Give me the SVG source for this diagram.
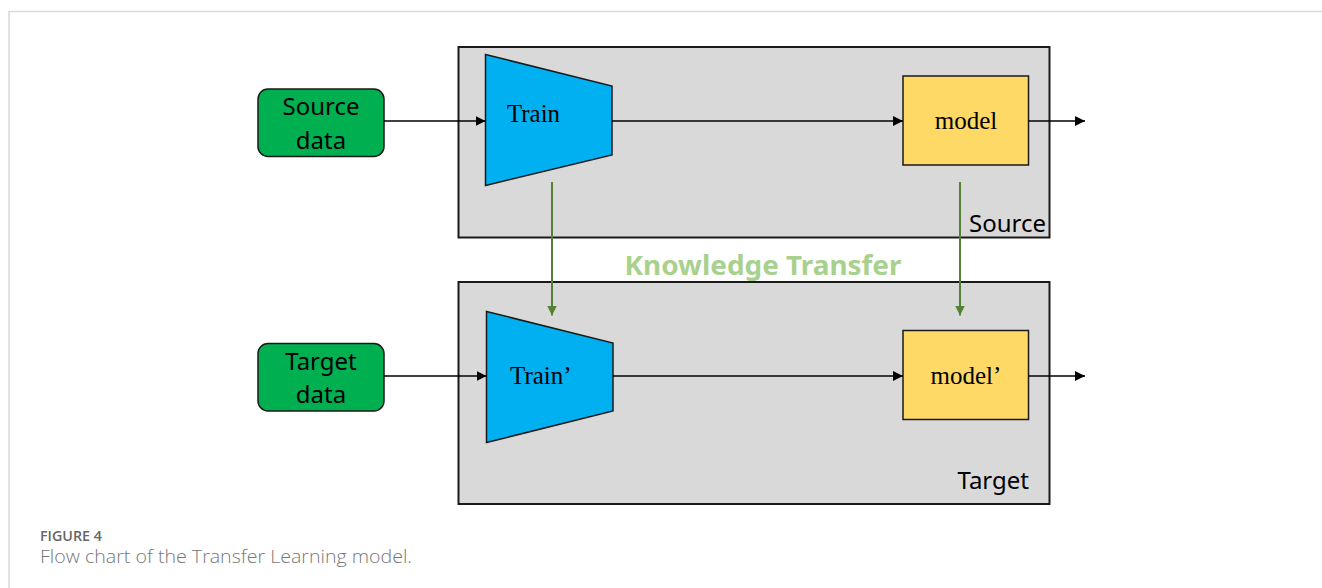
<svg xmlns="http://www.w3.org/2000/svg" width="1322" height="588" viewBox="0 0 1322 588">
<defs>
<marker id="ah" viewBox="0 0 10 10" refX="10" refY="5" markerWidth="10" markerHeight="10" markerUnits="userSpaceOnUse" orient="auto"><path d="M0,0 L10,5 L0,10 z" fill="#000"/></marker>
<marker id="ahg" viewBox="0 0 10 10" refX="10" refY="5" markerWidth="10" markerHeight="10" markerUnits="userSpaceOnUse" orient="auto"><path d="M0,0 L10,5 L0,10 z" fill="#548235"/></marker>
<style>
.panel{fill:#D9D9D9;stroke:#1a1a1a;stroke-width:2}
.data{fill:#00B050;stroke:#1a1a1a;stroke-width:1.5}
.trap{fill:#00B0F0;stroke:#1a1a1a;stroke-width:1.5}
.model{fill:#FFD966;stroke:#1a1a1a;stroke-width:1.5}
.sans{font-family:"Noto Sans","Open Sans","Liberation Sans",sans-serif;font-size:24px;fill:#000}
.serif{font-family:"Liberation Serif","Times New Roman",serif;font-size:25px;fill:#000}
.conn{stroke:#000;stroke-width:1.3;fill:none}
.gconn{stroke:#548235;stroke-width:2;fill:none}
</style>
</defs>
<rect x="0" y="0" width="1322" height="588" fill="#fff"/>
<path d="M9,588 V11.5 H1322" fill="none" stroke="#d9d9d9" stroke-width="1.5"/>

<g id="source-panel">
<rect class="panel" x="458.5" y="47" width="591" height="190.5"/>
<text class="sans" x="1046" y="232" text-anchor="end">Source</text>
</g>
<g id="target-panel">
<rect class="panel" x="458.5" y="282" width="591" height="222"/>
<text class="sans" x="1029" y="489" text-anchor="end">Target</text>
</g>

<g id="source-data">
<rect class="data" x="258" y="89" width="126" height="67.5" rx="10"/>
<text class="sans" x="321" y="115" text-anchor="middle">Source</text>
<text class="sans" x="321" y="148.5" text-anchor="middle">data</text>
</g>
<g id="target-data">
<rect class="data" x="258" y="343.5" width="126" height="67.5" rx="10"/>
<text class="sans" x="321" y="370" text-anchor="middle">Target</text>
<text class="sans" x="321" y="403" text-anchor="middle">data</text>
</g>

<g id="train">
<polygon class="trap" points="485.5,54.5 612,86 612,155 485.5,185.5"/>
<text class="serif" x="507" y="122" textLength="53" lengthAdjust="spacingAndGlyphs">Train</text>
</g>
<g id="train-prime">
<polygon class="trap" points="486.5,311.5 613,343 613,411 486.5,442.5"/>
<text class="serif" x="510" y="384">Train’</text>
</g>

<g id="model">
<rect class="model" x="903" y="76" width="125.5" height="89"/>
<text class="serif" x="966" y="128.5" text-anchor="middle">model</text>
</g>
<g id="model-prime">
<rect class="model" x="903" y="330.5" width="125.5" height="89"/>
<text class="serif" x="966" y="383.5" text-anchor="middle">model’</text>
</g>

<g id="connectors">
<line class="conn" x1="384" y1="121" x2="485.5" y2="121" marker-end="url(#ah)"/>
<line class="conn" x1="612" y1="121" x2="903" y2="121" marker-end="url(#ah)"/>
<line class="conn" x1="1028.5" y1="121" x2="1085" y2="121" marker-end="url(#ah)"/>
<line class="conn" x1="384" y1="376" x2="486.5" y2="376" marker-end="url(#ah)"/>
<line class="conn" x1="613" y1="376" x2="903" y2="376" marker-end="url(#ah)"/>
<line class="conn" x1="1028.5" y1="376" x2="1085" y2="376" marker-end="url(#ah)"/>
<line class="gconn" x1="552" y1="182" x2="552" y2="315.5" marker-end="url(#ahg)"/>
<line class="gconn" x1="960" y1="182" x2="960" y2="315.5" marker-end="url(#ahg)"/>
</g>

<text x="763" y="275" text-anchor="middle" font-family="'Noto Sans','Open Sans',sans-serif" font-weight="bold" font-size="27.5" fill="#A9D18E" textLength="277" lengthAdjust="spacingAndGlyphs">Knowledge Transfer</text>

<text x="40" y="540.5" font-family="'Open Sans','Noto Sans',sans-serif" font-weight="600" font-size="13.5" fill="#666" textLength="62" lengthAdjust="spacingAndGlyphs">FIGURE 4</text>
<text x="40" y="562.5" font-family="'Open Sans','Noto Sans',sans-serif" font-weight="300" font-size="18" fill="#777" textLength="372" lengthAdjust="spacingAndGlyphs">Flow chart of the Transfer Learning model.</text>
</svg>
